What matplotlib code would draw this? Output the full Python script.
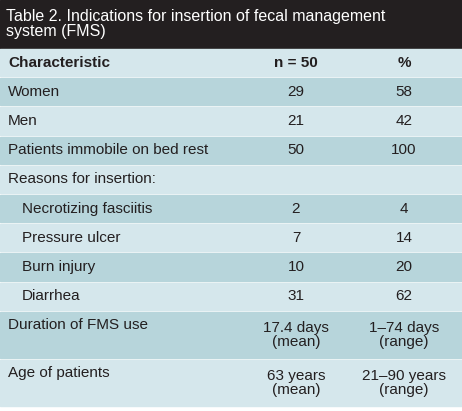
import matplotlib

matplotlib.use("Agg")
import matplotlib.pyplot as plt
from matplotlib.patches import Rectangle

plt.rcParams["font.family"] = ["Liberation Sans", "DejaVu Sans"]

TITLE = "Table 2. Indications for insertion of fecal management\nsystem (FMS)"
HEADER = ["Characteristic", "n = 50", "%"]
LABELS = ["Women", "Men", "Patients immobile on bed rest", "Reasons for insertion:",
          "Necrotizing fasciitis", "Pressure ulcer", "Burn injury", "Diarrhea",
          "Duration of FMS use", "Age of patients"]
N_VALUES = ["29", "21", "50", "", "2", "7", "10", "31",
            "17.4 days\n(mean)", "63 years\n(mean)"]
PCT_VALUES = ["58", "42", "100", "", "4", "14", "20", "62",
              "1\u201374 days\n(range)", "21\u201390 years\n(range)"]
INDENT = [False, False, False, False, True, True, True, True, False, False]

DARK = "#231f20"
LIGHT = "#d5e7ec"
MID = "#b7d5db"

fig = plt.figure(figsize=(4.62, 4.11), dpi=100)
ax = fig.add_axes([0, 0, 1, 1])
ax.set_xlim(0, 462)
ax.set_ylim(411, 0)
ax.axis("off")

# title band
ax.add_patch(Rectangle((0, 0), 462, 48, color=DARK))
ax.text(6, 24, TITLE, color="white", fontsize=11.5, va="center", ha="left",
        linespacing=1.05)

col_n, col_p = 296, 404
single, double = 29.2, 48
y = 49
rows = [(HEADER[0], HEADER[1], HEADER[2], False, True)]
rows += [(l, n, p, ind, False) for l, n, p, ind in zip(LABELS, N_VALUES, PCT_VALUES, INDENT)]
for i, (label, n, p, ind, bold) in enumerate(rows):
    h = double if "\n" in n else single
    color = LIGHT if i % 2 == 0 else MID
    ax.add_patch(Rectangle((0, y), 462, h - 2, color=color))
    weight = "bold" if bold else "normal"
    ty = y + (h - 2) / 2
    lab_y = y + 13 if "\n" in n else ty
    ax.text(22 if ind else 8, lab_y, label, fontsize=11, va="center",
            ha="left", weight=weight, color="#231f20")
    for x, v in [(col_n, n), (col_p, p)]:
        ax.text(x, ty, v, fontsize=11, va="center", ha="center", weight=weight,
                color="#231f20", linespacing=1.0)
    y += h

fig.savefig("out.png", dpi=100)
